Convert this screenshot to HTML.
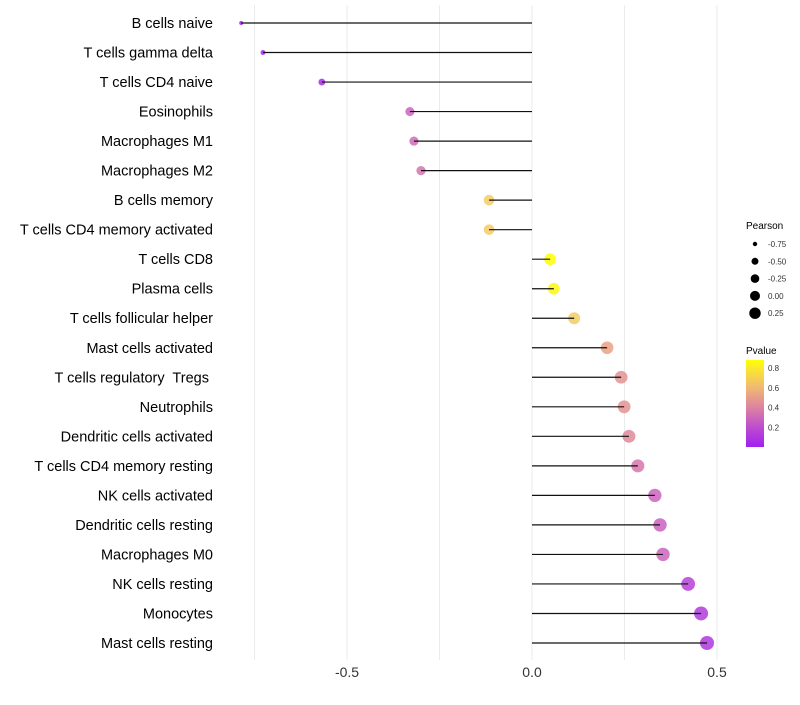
<!DOCTYPE html>
<html><head><meta charset="utf-8"><style>
body{margin:0;background:#fff;font-family:"Liberation Sans",sans-serif}
svg text{font-family:"Liberation Sans",sans-serif;white-space:pre}
</style></head><body>
<svg id="c" width="800" height="700"></svg>
<script>
const categories=["B cells naive","T cells gamma delta","T cells CD4 naive","Eosinophils","Macrophages M1","Macrophages M2","B cells memory","T cells CD4 memory activated","T cells CD8","Plasma cells","T cells follicular helper","Mast cells activated","T cells regulatory  Tregs ","Neutrophils","Dendritic cells activated","T cells CD4 memory resting","NK cells activated","Dendritic cells resting","Macrophages M0","NK cells resting","Monocytes","Mast cells resting"];
const pearson=[-0.786,-0.727,-0.568,-0.330,-0.319,-0.300,-0.116,-0.116,0.049,0.059,0.114,0.203,0.241,0.249,0.262,0.286,0.332,0.346,0.354,0.422,0.457,0.473];
const pvalue=[0.01,0.02,0.06,0.30,0.32,0.35,0.70,0.70,0.88,0.85,0.70,0.50,0.45,0.45,0.42,0.36,0.30,0.28,0.30,0.15,0.12,0.10];
const xTicks=[-0.5,0,0.5];
const xTickLabels=["-0.5","0.0","0.5"];
const sizeLegend=[-0.75,-0.5,-0.25,0,0.25];
const pLegend=[0.8,0.6,0.4,0.2];
const NS="http://www.w3.org/2000/svg",svg=document.getElementById('c');
function mk(t,a,p){const e=document.createElementNS(NS,t);for(const k in a)e.setAttribute(k,a[k]);(p||svg).appendChild(e);return e;}
const X=v=>532+v*370;
const Y=i=>23+i*(620/21);
const R=v=>Math.sqrt(4+36*Math.max(0,v+0.786));
function col(p){const stops=[[0,[160,32,240]],[0.3,[205,100,190]],[0.5,[234,162,130]],[0.7,[245,205,100]],[0.88,[255,255,0]]];
p=Math.max(0,Math.min(0.88,p));for(let i=1;i<stops.length;i++){if(p<=stops[i][0]){const a=stops[i-1],b=stops[i],t=(p-a[0])/(b[0]-a[0]);return 'rgb('+a[1].map((c,j)=>Math.round(c+(b[1][j]-c)*t)).join(',')+')';}}return 'rgb(255,255,0)';}
const PY=p=>447-p*(447-368)/0.8;
for(let g=-0.75;g<=0.51;g+=0.25){const l=mk('line',{x1:X(g),x2:X(g),y1:5,y2:660,stroke:'#ebebeb','stroke-width':1});

}
xTicks.forEach((t,i)=>{const e=mk('text',{x:X(t),y:677,'text-anchor':'middle','font-size':14,fill:'#333'});e.textContent=xTickLabels[i];

});
categories.forEach((c,i)=>{const y=Y(i);
const t=mk('text',{x:213,y:y+5,'text-anchor':'end','font-size':14.5,fill:'#000'});t.textContent=c;


const d=mk('circle',{cx:X(pearson[i]),cy:y,r:R(pearson[i]),fill:col(pvalue[i]),'fill-opacity':0.85});


const s=mk('line',{x1:X(0),x2:X(pearson[i]),y1:y,y2:y,stroke:'#111','stroke-width':1.2});

});
const lt=mk('text',{x:746,y:229,'font-size':10,fill:'#000'});lt.textContent='Pearson';


const legR=[2.2,3.5,4.3,5,5.7];
sizeLegend.forEach((v,i)=>{const y=244+i*17.3;const c=mk('circle',{cx:755,cy:y,r:legR[i],fill:'#000'});


const t=mk('text',{x:768,y:y+3,'font-size':8,fill:'#333'});t.textContent=v.toFixed(2);

});
const pt=mk('text',{x:746,y:354,'font-size':10,fill:'#000'});pt.textContent='Pvalue';


const defs=mk('defs',{});const gr=mk('linearGradient',{id:'pg',x1:0,y1:1,x2:0,y2:0},defs);
[0,0.2,0.4,0.6,0.8,0.88].forEach(p=>mk('stop',{offset:p/0.88,'stop-color':col(p)},gr));
const bar=mk('rect',{x:746,y:360,width:18,height:87,fill:'url(#pg)'});


pLegend.forEach(p=>{const t=mk('text',{x:768,y:PY(p)+3,'font-size':8,fill:'#333'});t.textContent=p.toFixed(1);

});
</script>
</body></html>
